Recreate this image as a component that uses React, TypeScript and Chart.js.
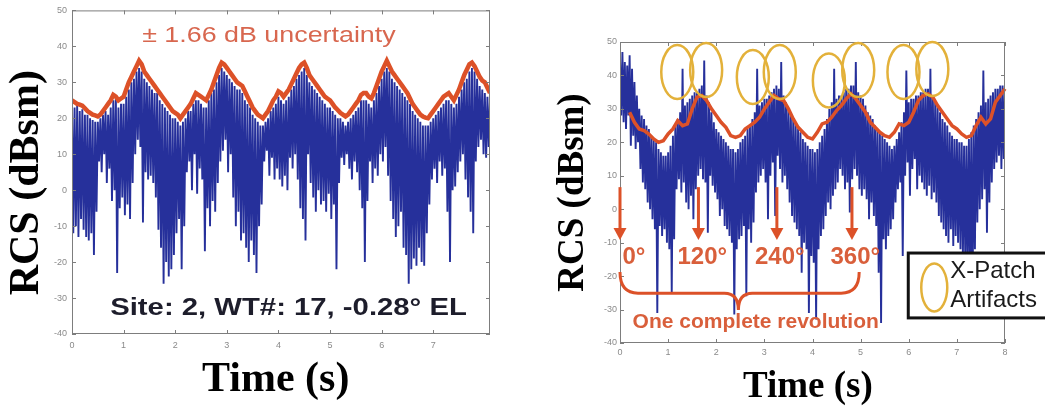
import React, { useEffect, useRef } from 'react';
import { Chart, registerables } from 'chart.js';

Chart.register(...registerables);

// ---------- data ----------
const SAMPLE_STEP = 0.05; // s between samples of the blue traces and the left envelope
const RIGHT_RED_START = 0.2;
const RIGHT_RED_STEP = 0.1;

const Y_TICKS = [-40, -30, -20, -10, 0, 10, 20, 30, 40, 50];
const LEFT_X_TICKS = [0, 1, 2, 3, 4, 5, 6, 7];
const RIGHT_X_TICKS = [0, 1, 2, 3, 4, 5, 6, 7, 8];

// Left panel: blue RCS trace (per-sample high / low) and red uncertainty envelope
const LEFT_BLUE_HIGH = [
  24, 23, 23.5, 22, 22.5, 21, 21, 20, 19.5, 19,
  19, 20, 21, 22, 21, 23, 25, 26, 23, 24,
  24, 26, 28, 30, 31, 33, 34, 33, 31, 30,
  29, 28, 27, 27, 25, 24, 23, 22, 21, 20,
  20, 19, 18, 19, 20, 22, 22, 24, 25, 25,
  24, 23, 23, 25, 27, 28, 30, 32, 34, 33,
  32, 31, 30, 29, 28, 28, 27, 25, 24, 23,
  21, 20, 19, 18, 18, 19, 20, 22, 23, 24,
  26, 25, 24, 25, 26, 28, 29, 31, 32, 33,
  34, 32, 30, 29, 28, 27, 26, 25, 24, 23,
  23, 22, 21, 20, 20, 19, 18, 19, 20, 21,
  22, 23, 25, 25, 25, 24, 23, 25, 27, 29,
  31, 33, 34, 33, 31, 30, 29, 28, 27, 26,
  25, 24, 22, 21, 20, 19, 18, 18, 18, 19,
  20, 21, 22, 23, 24, 25, 25, 24, 23, 24,
  26, 28, 30, 31, 33, 34, 33, 31, 29, 28,
  27, 26, 25,
];
const LEFT_BLUE_LOW = [
  -12, -10, -13, -8, -11, -13, -14, -12, -18, -6,
  8, 5, 10, 2, 6, -3, 0, -23, -5, -2,
  -7, -4, -8, 2, 10, 14, 12, -9, 5, 3,
  4, 2, -2, -11, -16, -26, -20, -24, -22, -18,
  -12, -8, -22, -10, 5, 8, 0, 10, -1, 6,
  3, -17, -5, -10, -3, -6, 2, 8, 11, 14,
  5, 10, -2, -10, -6, -14, -12, -16, -20, -14,
  -18, -23, -10, -4, 8, 11, 4, 9, 3, 6,
  3, 1, 4, 0, 9, 6, 10, 3, -5, -8,
  -14, 10, 2, -2, -6, 0, -4, -3, -6, -1,
  -8, -4, -22, 2, 9, 7, 10, 6, 3, 8,
  5, 0, -5, -20, -3, 8, 2, 6, 4, 10,
  8, 12, 4, -3, -8, -13, -10, -6, -16, -18,
  -26, -22, -19, -21, -16, -20, -21, -12, -4, 3,
  6, 2, 8, 4, 6, -6, -20, 0, 1, 5,
  8, 10, 3, -2, -6, -12, 8, 12, 14, 10,
  9, 12, 14,
];
const LEFT_RED = [
  25, 24.5, 24, 23.8, 23.5, 22.8, 22, 21.5, 21, 20.8,
  20.5, 21, 22, 23, 24, 25, 26.5, 26, 25, 25.5,
  26, 28, 30, 31.5, 33, 34.5, 36, 35, 33, 32,
  31, 30, 29, 28, 27, 26, 25, 24, 23, 22,
  21.5, 21, 20, 21, 22, 23, 24, 25.5, 27, 26.5,
  26, 25.5, 25, 26.5, 28, 30, 32, 34, 35.5, 35,
  34, 33, 32, 31, 30, 29.5, 29, 27.5, 26, 24.5,
  23, 22, 21, 20.5, 20, 21, 22, 23.5, 25, 26,
  27.5, 27, 26, 27, 28, 29.5, 31, 32.5, 34, 35,
  35.5, 34, 32, 31, 30, 29, 28, 27, 26, 25.5,
  25, 24, 23, 22.3, 21.5, 21, 20.5, 21, 22, 23,
  24, 25, 26.5, 27, 27, 26, 25.5, 27, 29, 31,
  33, 34.5, 36, 34.5, 33, 32, 31, 30, 29, 28,
  27, 25.5, 24, 23, 22, 21, 20.5, 20.2, 20, 21,
  22, 23, 24, 25, 26, 26.5, 27, 26, 25, 26.5,
  28, 30, 32, 33.5, 35, 35.5, 34.5, 33, 31.5, 30.5,
  30, 28.5, 27,
];

// Right panel
const RIGHT_BLUE_HIGH = [
  45, 47, 44, 43, 46, 42, 38, 34, 30, 28,
  27, 25, 24, 22, 21, 20, 18, 17, 16, 16,
  17, 19, 22, 25, 27, 29, 42, 31, 32, 33,
  34, 35, 35, 36, 37, 44.5, 34, 32, 29, 26,
  24, 23, 22, 21, 20, 19, 18, 18, 17, 18,
  20, 21, 22, 24, 25, 27, 29, 42, 31, 32,
  33, 33, 34, 35, 36, 37, 36, 44, 34, 32,
  30, 28, 27, 26, 24, 23, 21, 20, 19, 18,
  18, 17, 18, 20, 22, 24, 27, 30, 32, 42,
  33, 34, 34, 35, 36, 36, 37, 37, 44, 35,
  34, 33, 31, 29, 28, 27, 25, 24, 23, 22,
  21, 20, 19, 18, 19, 21, 23, 26, 29, 41.5,
  32, 33, 33, 34, 34, 35, 35, 36, 36, 42,
  34, 32, 31, 29, 27, 26, 25, 23, 22, 21,
  21, 20, 20, 19, 19, 21, 23, 25, 27, 29,
  31, 41.5, 32, 33, 34, 35, 36, 36, 37, 37,
  36,
];
const RIGHT_BLUE_LOW = [
  28, 26, 24, 28, 19, 22, 18, 20, 12, 8,
  6, 2, 0, -3, -6, -31, -5, -8, -6, -10,
  -12, -25, -9, 6, 9, 5, 8, 2, 0, 4,
  -3, 6, 10, 12, 9, 8, -7, 10, 7, 5,
  3, -2, 0, -5, -6, -8, -10, -31.5, -12, -9,
  -8, -5, -26, -6, -10, -4, 5, 8, 10, 12,
  8, -3, 10, 14, -2, 16, 12, 8, 10, 6,
  2, -2, -4, -6, -8, -19, -10, -12, -31, -14,
  -16, -33, -12, -8, -6, -2, 2, 0, 4, 6,
  8, 12, 10, 6, 8, -1, 9, 12, 10, 6,
  4, 6, 3, -3, 2, -2, -5, -19, -34, -9,
  -12, -8, -6, -3, 2, 6, 8, -14, 10, 14,
  4, 12, 15, 6, 10, 8, 6, 4, 7, 3,
  5, 2, -2, -4, -6, -8, -10, -6, -11, -8,
  -10, -12, -14, -16, -20, -18, -28, -12, -4, 0,
  3, 6, -7, 2, 8, 12, 14, 16, 12, 15,
  17,
];
const RIGHT_RED = [
  29, 26, 24, 23.5, 22.5, 21, 20, 20.5, 22.5, 24,
  26.5, 25, 25.5, 30, 33.5, 34, 32.5, 30, 28, 26,
  24.5, 22, 21.5, 22, 24, 25, 26, 27.5, 30, 32,
  34, 33, 32.5, 30, 27, 24.5, 23, 21.5, 21, 23,
  25.5, 26, 27.5, 29.5, 31, 33, 34.5, 33, 31, 29,
  26, 24.5, 23, 22, 21.5, 23, 25.5, 25, 26, 29,
  32.5, 34, 34.5, 33.5, 31, 29, 27, 25, 24, 22.5,
  21.5, 22, 25, 27.5, 25.5, 27, 32, 34, 36, 33,
  31, 30, 27.5,
];

// Text
const Y_TITLE = 'RCS (dBsm)';
const X_TITLE = 'Time (s)';
const UNCERTAINTY_TEXT = '± 1.66 dB uncertainty';
const SITE_TEXT = 'Site: 2, WT#: 17, -0.28° EL';
const ANGLE_LABELS = ['0°', '120°', '240°', '360°'];
const ANGLE_ARROW_TIMES = [0, 1.63, 3.26, 4.82];
const ANGLE_LABEL_TIMES = [0.29, 1.71, 3.32, 4.89];
const ARTIFACT_TIMES = [1.19, 1.79, 2.76, 3.32, 4.34, 4.95, 5.89, 6.49];
const ARTIFACT_LEVELS = [41, 41.6, 39.5, 41, 38.5, 41.6, 41, 41.9];
const REVOLUTION_TEXT = 'One complete revolution';
const LEGEND_LINES = ['X-Patch', 'Artifacts'];

// ---------- styles ----------
const BLUE = 'rgb(38, 48, 155)';
const RED = '#dc5128';
const NOTE_RED = '#d95f3b';
const GOLD = '#e3b13a';
const SANS = '"Liberation Sans", Arial, sans-serif';
const SERIF = '"Liberation Serif", "Times New Roman", serif';
const LEFT_TEXT_STRETCH = 1.22; // the left panel's annotations are horizontally widened

function traceFrom(high: number[], low: number[], step: number) {
  const pts: { x: number; y: number }[] = [];
  high.forEach((h, i) => {
    pts.push({ x: i * step, y: h });
    pts.push({ x: i * step + step / 2, y: low[i] });
  });
  return pts;
}

function seriesFrom(values: number[], start: number, step: number) {
  return values.map((v, i) => ({ x: start + i * step, y: v }));
}

function framePlugin(xTicks: number[]) {
  return {
    id: 'frame',
    afterDatasetsDraw(chart: any) {
      const { ctx, chartArea: a, scales } = chart;
      const x = scales.x;
      const y = scales.y;
      ctx.save();
      ctx.strokeStyle = '#7d7d7d';
      ctx.lineWidth = 1;
      ctx.strokeRect(a.left + 0.5, a.top + 0.5, a.right - a.left - 1, a.bottom - a.top - 1);
      ctx.beginPath();
      xTicks.forEach((v) => {
        const px = Math.round(x.getPixelForValue(v)) + 0.5;
        ctx.moveTo(px, a.bottom);
        ctx.lineTo(px, a.bottom - 4);
        ctx.moveTo(px, a.top);
        ctx.lineTo(px, a.top + 4);
      });
      Y_TICKS.forEach((v) => {
        const py = Math.round(y.getPixelForValue(v)) + 0.5;
        ctx.moveTo(a.left, py);
        ctx.lineTo(a.left + 4, py);
        ctx.moveTo(a.right, py);
        ctx.lineTo(a.right - 4, py);
      });
      ctx.stroke();
      ctx.restore();
    },
  };
}

function stretchedText(ctx: any, text: string, x: number, y: number) {
  ctx.save();
  ctx.translate(x, y);
  ctx.scale(LEFT_TEXT_STRETCH, 1);
  ctx.fillText(text, 0, 0);
  ctx.restore();
}

const leftNotes = {
  id: 'leftNotes',
  afterDatasetsDraw(chart: any) {
    const { ctx, scales } = chart;
    const px = (v: number) => scales.x.getPixelForValue(v);
    const py = (v: number) => scales.y.getPixelForValue(v);
    ctx.save();
    ctx.textBaseline = 'middle';
    ctx.textAlign = 'left';
    ctx.font = `22px ${SANS}`;
    ctx.fillStyle = '#d8674f';
    stretchedText(ctx, UNCERTAINTY_TEXT, px(1.36), py(42.8));
    ctx.font = `bold 24px ${SANS}`;
    ctx.fillStyle = '#1d1d2b';
    stretchedText(ctx, SITE_TEXT, px(0.74), py(-32.8));
    ctx.restore();
  },
};

const rightNotes = {
  id: 'rightNotes',
  afterDatasetsDraw(chart: any) {
    const { ctx, scales } = chart;
    const px = (v: number) => scales.x.getPixelForValue(v);
    const py = (v: number) => scales.y.getPixelForValue(v);
    ctx.save();

    // X-patch artifact ellipses
    ctx.strokeStyle = GOLD;
    ctx.lineWidth = 2.5;
    ARTIFACT_TIMES.forEach((t, i) => {
      ctx.beginPath();
      ctx.ellipse(px(t), py(ARTIFACT_LEVELS[i]), 16, 27, 0, 0, Math.PI * 2);
      ctx.stroke();
    });

    // angle arrows
    ctx.strokeStyle = RED;
    ctx.fillStyle = RED;
    ctx.lineWidth = 3;
    ANGLE_ARROW_TIMES.forEach((t) => {
      const X = px(t);
      const top = py(6.6);
      const tip = py(-9.2);
      ctx.beginPath();
      ctx.moveTo(X, top);
      ctx.lineTo(X, tip - 10);
      ctx.stroke();
      ctx.beginPath();
      ctx.moveTo(X - 6.5, tip - 12);
      ctx.lineTo(X + 6.5, tip - 12);
      ctx.lineTo(X, tip);
      ctx.closePath();
      ctx.fill();
    });

    // angle labels
    ctx.fillStyle = NOTE_RED;
    ctx.font = `bold 24px ${SANS}`;
    ctx.textAlign = 'center';
    ctx.textBaseline = 'middle';
    ANGLE_LABELS.forEach((lab, i) => {
      ctx.fillText(lab, px(ANGLE_LABEL_TIMES[i]), py(-14.3));
    });

    // brace
    const yEnd = py(-18.8);
    const yMid = py(-25.1);
    const yCusp = py(-30.1);
    const xL = px(0);
    const xC = px(2.46);
    const xR = px(4.97);
    ctx.strokeStyle = RED;
    ctx.lineWidth = 3;
    ctx.beginPath();
    ctx.moveTo(xL, yEnd);
    ctx.quadraticCurveTo(xL, yMid, xL + 18, yMid);
    ctx.lineTo(xC - 14, yMid);
    ctx.quadraticCurveTo(xC, yMid, xC, yCusp);
    ctx.quadraticCurveTo(xC, yMid, xC + 14, yMid);
    ctx.lineTo(xR - 18, yMid);
    ctx.quadraticCurveTo(xR, yMid, xR, yEnd);
    ctx.stroke();

    ctx.fillStyle = NOTE_RED;
    ctx.font = `bold 21px ${SANS}`;
    ctx.fillText(REVOLUTION_TEXT, px(2.82), py(-33.7));

    // legend box
    const bx = px(5.99);
    const by = py(-13.1);
    const bb = py(-32.5);
    const bw = chart.width + 10 - bx;
    ctx.fillStyle = '#ffffff';
    ctx.fillRect(bx, by, bw, bb - by);
    ctx.strokeStyle = '#111111';
    ctx.lineWidth = 3;
    ctx.strokeRect(bx, by, bw, bb - by);
    const mid = (by + bb) / 2;
    ctx.strokeStyle = GOLD;
    ctx.lineWidth = 2.5;
    ctx.beginPath();
    ctx.ellipse(bx + 26, mid + 2, 13, 24, 0, 0, Math.PI * 2);
    ctx.stroke();
    ctx.fillStyle = '#1a1a1a';
    ctx.font = `24px ${SANS}`;
    ctx.textAlign = 'left';
    ctx.fillText(LEGEND_LINES[0], bx + 42, mid - 14.5);
    ctx.fillText(LEGEND_LINES[1], bx + 42, mid + 15);

    ctx.restore();
  },
};

function buildConfig(p: {
  high: number[];
  low: number[];
  red: { x: number; y: number }[];
  redWidth: number;
  redClip: boolean;
  xMax: number;
  xTicks: number[];
  padding: any;
  yWidth: number;
  xHeight: number;
  titleSize: number;
  yTitle: string;
  xTitle: string;
  yTitlePad: number;
  xTitlePad: number;
  yTickPad: number;
  xTickPad: number;
  plugins: any[];
}) {
  return {
    type: 'line' as const,
    data: {
      datasets: [
        {
          label: 'Envelope',
          data: p.red,
          borderColor: RED,
          borderWidth: p.redWidth,
          pointRadius: 0,
          tension: 0,
          order: 0,
          clip: p.redClip ? undefined : false,
        },
        {
          label: 'RCS',
          data: traceFrom(p.high, p.low, SAMPLE_STEP),
          borderColor: BLUE,
          borderWidth: 1.9,
          pointRadius: 0,
          tension: 0,
          order: 1,
        },
      ],
    },
    options: {
      animation: false,
      responsive: false,
      devicePixelRatio: 1,
      parsing: false,
      layout: { padding: p.padding },
      plugins: { legend: { display: false }, tooltip: { enabled: false } },
      scales: {
        x: {
          type: 'linear',
          min: 0,
          max: p.xMax,
          grid: { display: false, drawTicks: false },
          border: { display: false },
          afterBuildTicks: (s: any) => {
            s.ticks = p.xTicks.map((value) => ({ value }));
          },
          afterFit: (s: any) => {
            s.height = p.xHeight;
          },
          ticks: { color: '#8a8a8a', font: { size: 9, family: SANS }, padding: p.xTickPad, maxRotation: 0 },
          title: {
            display: true,
            text: p.xTitle,
            color: '#000',
            font: { size: p.titleSize, family: SERIF, weight: 'bold' },
            padding: { top: 0, bottom: p.xTitlePad },
          },
        },
        y: {
          type: 'linear',
          min: -40,
          max: 50,
          grid: { display: false, drawTicks: false },
          border: { display: false },
          afterBuildTicks: (s: any) => {
            s.ticks = Y_TICKS.map((value) => ({ value }));
          },
          afterFit: (s: any) => {
            s.width = p.yWidth;
          },
          ticks: { color: '#8a8a8a', font: { size: 9, family: SANS }, padding: p.yTickPad },
          title: {
            display: true,
            text: p.yTitle,
            color: '#000',
            font: { size: p.titleSize, family: SERIF, weight: 'bold' },
            padding: { top: p.yTitlePad, bottom: 0 },
          },
        },
      },
    },
    plugins: p.plugins,
  };
}

function ChartPanel({ left, width, makeConfig }: { left: number; width: number; makeConfig: () => any }) {
  const ref = useRef<HTMLCanvasElement | null>(null);
  useEffect(() => {
    const chart = new Chart(ref.current as HTMLCanvasElement, makeConfig());
    return () => chart.destroy();
  }, []);
  return (
    <canvas
      ref={ref}
      width={width}
      height={410}
      style={{ position: 'absolute', left, top: 0, width, height: 410, display: 'block' }}
    />
  );
}

export default function App() {
  const leftConfig = () =>
    buildConfig({
      high: LEFT_BLUE_HIGH,
      low: LEFT_BLUE_LOW,
      red: seriesFrom(LEFT_RED, 0, SAMPLE_STEP),
      redWidth: 4.5,
      redClip: true,
      xMax: 8.1,
      xTicks: LEFT_X_TICKS,
      padding: { top: 10, right: 30, bottom: 0, left: 0 },
      yWidth: 72,
      xHeight: 76,
      titleSize: 42,
      // trailing spaces nudge the rotated title down, as in the reference
      yTitle: Y_TITLE + '\u00a0\u00a0',
      xTitle: X_TITLE + '\u00a0',
      yTitlePad: 2,
      xTitlePad: 5,
      yTickPad: 5,
      xTickPad: 6,
      plugins: [framePlugin(LEFT_X_TICKS), leftNotes],
    });
  const rightConfig = () =>
    buildConfig({
      high: RIGHT_BLUE_HIGH,
      low: RIGHT_BLUE_LOW,
      red: seriesFrom(RIGHT_RED, RIGHT_RED_START, RIGHT_RED_STEP),
      redWidth: 3.5,
      redClip: false,
      xMax: 8,
      xTicks: RIGHT_X_TICKS,
      padding: { top: 42, right: 40, bottom: 0, left: 0 },
      yWidth: 100,
      xHeight: 67,
      titleSize: 37,
      yTitle: Y_TITLE,
      xTitle: X_TITLE + '\u00a0',
      yTitlePad: 31,
      xTitlePad: 0,
      yTickPad: 3,
      xTickPad: 4,
      plugins: [framePlugin(RIGHT_X_TICKS), rightNotes],
    });
  return (
    <div style={{ position: 'absolute', left: 0, top: 0, width: 1045, height: 410, background: '#fff', overflow: 'hidden' }}>
      <ChartPanel left={0} width={520} makeConfig={leftConfig} />
      <ChartPanel left={520} width={525} makeConfig={rightConfig} />
    </div>
  );
}
